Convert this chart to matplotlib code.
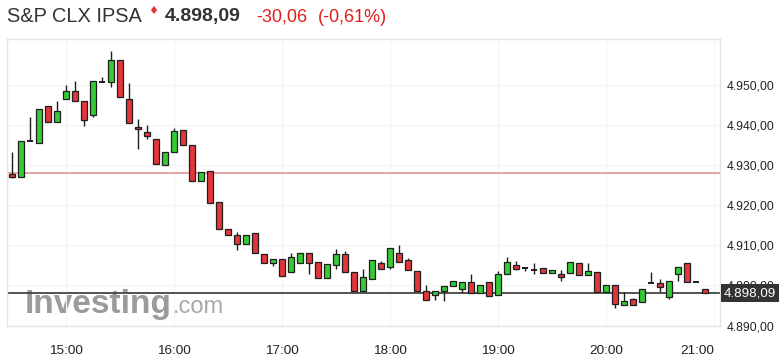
import matplotlib
matplotlib.use("Agg")
import matplotlib.pyplot as plt
import numpy as np

plt.rcParams["font.family"] = ["Liberation Sans", "DejaVu Sans"]

# 5-minute candles, 14:30 .. 20:55
opens = [4927.9, 4927.0, 4936.0, 4935.6, 4944.9, 4940.8, 4946.5, 4948.7, 4946.2, 4942.5,
         4950.8, 4950.9, 4956.3, 4946.5, 4939.6, 4938.4, 4936.7, 4930.2, 4933.4, 4938.9,
         4935.2, 4926.0, 4928.6, 4920.8, 4914.2, 4912.6, 4910.3, 4913.1, 4907.8, 4905.6,
         4906.5, 4903.4, 4905.6, 4908.2, 4905.9, 4901.8, 4905.0, 4907.8, 4903.3, 4898.7,
         4901.5, 4905.5, 4904.5, 4908.2, 4906.3, 4903.7, 4898.6, 4897.5, 4898.7, 4899.8,
         4899.2, 4900.8, 4898.1, 4900.8, 4897.5, 4902.8, 4905.2, 4904.4, 4903.9, 4904.4,
         4903.1, 4902.8, 4903.1, 4905.6, 4902.5, 4903.3, 4898.3, 4900.2, 4895.2, 4896.5,
         4895.9, 4900.7, 4900.6, 4897.1, 4902.8, 4905.6, 4900.8, 4899.0]
closes = [4927.0, 4936.2, 4936.0, 4944.0, 4940.8, 4943.5, 4948.7, 4946.1, 4941.4, 4951.0,
          4950.8, 4956.3, 4947.0, 4940.5, 4939.0, 4937.4, 4930.4, 4933.4, 4938.6, 4935.2,
          4926.1, 4928.3, 4920.7, 4914.1, 4912.6, 4910.3, 4912.6, 4908.1, 4905.6, 4906.5,
          4902.4, 4907.2, 4908.2, 4905.6, 4901.8, 4905.3, 4907.8, 4903.3, 4898.7, 4902.0,
          4906.3, 4904.0, 4909.4, 4905.9, 4903.8, 4898.6, 4896.4, 4898.6, 4899.8, 4901.1,
          4900.8, 4898.1, 4900.2, 4897.3, 4902.8, 4905.8, 4904.2, 4904.4, 4903.9, 4903.1,
          4903.8, 4902.1, 4905.9, 4902.5, 4903.5, 4898.3, 4900.2, 4895.4, 4896.2, 4895.2,
          4899.2, 4900.7, 4899.6, 4901.1, 4904.6, 4900.8, 4900.8, 4898.09]
highs = [4933.4, 4936.2, 4942.0, 4944.0, 4944.9, 4946.0, 4950.0, 4951.0, 4946.2, 4951.0,
         4952.0, 4958.5, 4956.3, 4950.7, 4941.7, 4940.2, 4936.7, 4933.4, 4939.4, 4938.9,
         4935.2, 4928.3, 4928.6, 4920.8, 4914.2, 4913.3, 4912.6, 4913.1, 4907.8, 4906.5,
         4906.5, 4908.2, 4908.2, 4908.2, 4905.9, 4905.3, 4909.2, 4908.5, 4903.3, 4904.1,
         4906.3, 4906.0, 4909.4, 4910.0, 4906.8, 4903.7, 4900.0, 4898.6, 4899.8, 4901.1,
         4900.8, 4902.8, 4900.2, 4900.8, 4903.6, 4907.0, 4906.1, 4904.5, 4905.6, 4904.4,
         4903.8, 4903.8, 4905.9, 4905.6, 4905.5, 4903.3, 4900.2, 4900.2, 4898.4, 4896.9,
         4899.2, 4903.3, 4901.7, 4901.1, 4904.6, 4905.6, 4900.8, 4899.0]
lows = [4926.9, 4927.0, 4936.0, 4935.6, 4940.8, 4940.8, 4946.5, 4946.1, 4939.8, 4942.0,
        4950.8, 4949.6, 4947.0, 4940.5, 4934.1, 4936.6, 4930.4, 4930.2, 4933.4, 4935.2,
        4926.1, 4926.0, 4920.7, 4914.1, 4912.6, 4908.8, 4910.3, 4908.1, 4905.6, 4904.8,
        4902.4, 4903.4, 4905.6, 4902.8, 4901.8, 4901.8, 4904.0, 4903.3, 4898.7, 4898.7,
        4901.5, 4904.0, 4904.0, 4905.9, 4903.8, 4898.6, 4896.4, 4896.4, 4896.2, 4899.8,
        4898.2, 4898.1, 4898.1, 4897.3, 4897.5, 4902.8, 4903.8, 4903.6, 4902.8, 4903.1,
        4903.1, 4901.1, 4903.1, 4902.5, 4902.5, 4898.3, 4898.3, 4894.4, 4895.2, 4895.2,
        4895.9, 4900.7, 4898.3, 4896.6, 4901.1, 4900.8, 4900.8, 4898.09]

hour_labels = ["15:00", "16:00", "17:00", "18:00", "19:00", "20:00", "21:00"]
hour_idx = [6, 18, 30, 42, 54, 66, 78]
y_ticks = [4890, 4900, 4910, 4920, 4930, 4940, 4950]

last_price = 4898.09
prev_close = 4928.15
change = "-30,06"
change_pct = "(-0,61%)"
title = "S&P CLX IPSA"

GREEN = "#35cb35"
RED = "#e2363a"
EDGE = "#1e1e1e"

W, H = 781, 361
fig = plt.figure(figsize=(W / 100, H / 100), dpi=100)
ax = fig.add_axes([7 / W, 1 - 325.5 / H, (720 - 7) / W, (325.5 - 39) / H])

o = np.array(opens)
c = np.array(closes)
x = np.arange(len(o))

ax.vlines(x, lows, highs, color=EDGE, lw=1, zorder=3)

doji = np.isclose(o, c)
body = ~doji
cols = np.where(c > o, GREEN, RED)
ax.bar(x[body], np.abs(c - o)[body], bottom=np.minimum(o, c)[body], width=0.7,
       color=cols[body], edgecolor=EDGE, linewidth=0.9, zorder=4)
ax.hlines(o[doji], x[doji] - 0.35, x[doji] + 0.35, color=EDGE, lw=1.4, zorder=4)

# previous close and last price lines
ax.axhline(prev_close, color="#e08a8a", lw=1.1, zorder=2)
ax.axhline(last_price, color="#444444", lw=1.3, zorder=2)

ax.set_xlim(-0.55, 78.63)
ax.set_ylim(4890, 4961.6)

ax.set_xticks(hour_idx)
ax.set_xticklabels(hour_labels, fontsize=9.7, color="#222222")
ax.get_xticklabels()[-1].set_horizontalalignment("right")
ax.set_yticks(y_ticks)
ax.set_yticklabels([f"{v:,.2f}".replace(",", " ").replace(".", ",").replace(" ", ".")
                    for v in y_ticks], fontsize=8.7, color="#222222")
ax.yaxis.tick_right()
ax.tick_params(axis="both", length=0)
ax.tick_params(axis="x", pad=14)
ax.tick_params(axis="y", pad=5)
ax.grid(color="#f3f3f3", lw=0.8, zorder=0)
for s in ax.spines.values():
    s.set_color("#e4e4e4")
    s.set_linewidth(1)

# last price box
ax.annotate("4.898,09", xy=(1, last_price), xycoords=("axes fraction", "data"),
            xytext=(3, 0), textcoords="offset points", ha="left", va="center",
            fontsize=9.6, color="white", zorder=10, annotation_clip=False,
            bbox=dict(boxstyle="square,pad=0.22", fc="#333333", ec="none"))

# watermark
ax.text(0.025, 0.045, "Investing", transform=ax.transAxes, fontsize=24, fontweight="bold",
        color="#8a8a8a", alpha=0.85, zorder=1)
ax.text(0.232, 0.045, ".com", transform=ax.transAxes, fontsize=17, color="#9a9a9a",
        alpha=0.85, zorder=1)

# header
fig.text(7 / W, 1 - 17 / H, title, fontsize=14.4, color="#333333", va="center")
fig.text(153.5 / W, 1 - 11 / H, "\u2666", fontsize=8, color="#e8303a", ha="center",
         va="center", family="DejaVu Sans")
fig.text(165 / W, 1 - 17 / H, "4.898,09", fontsize=14, fontweight="bold",
         color="#333333", va="center")
fig.text(256 / W, 1 - 17 / H, change, fontsize=13, color="#e31b1b", va="center")
fig.text(318 / W, 1 - 17 / H, change_pct, fontsize=13, color="#e31b1b", va="center")

fig.savefig("out.png", dpi=100)
